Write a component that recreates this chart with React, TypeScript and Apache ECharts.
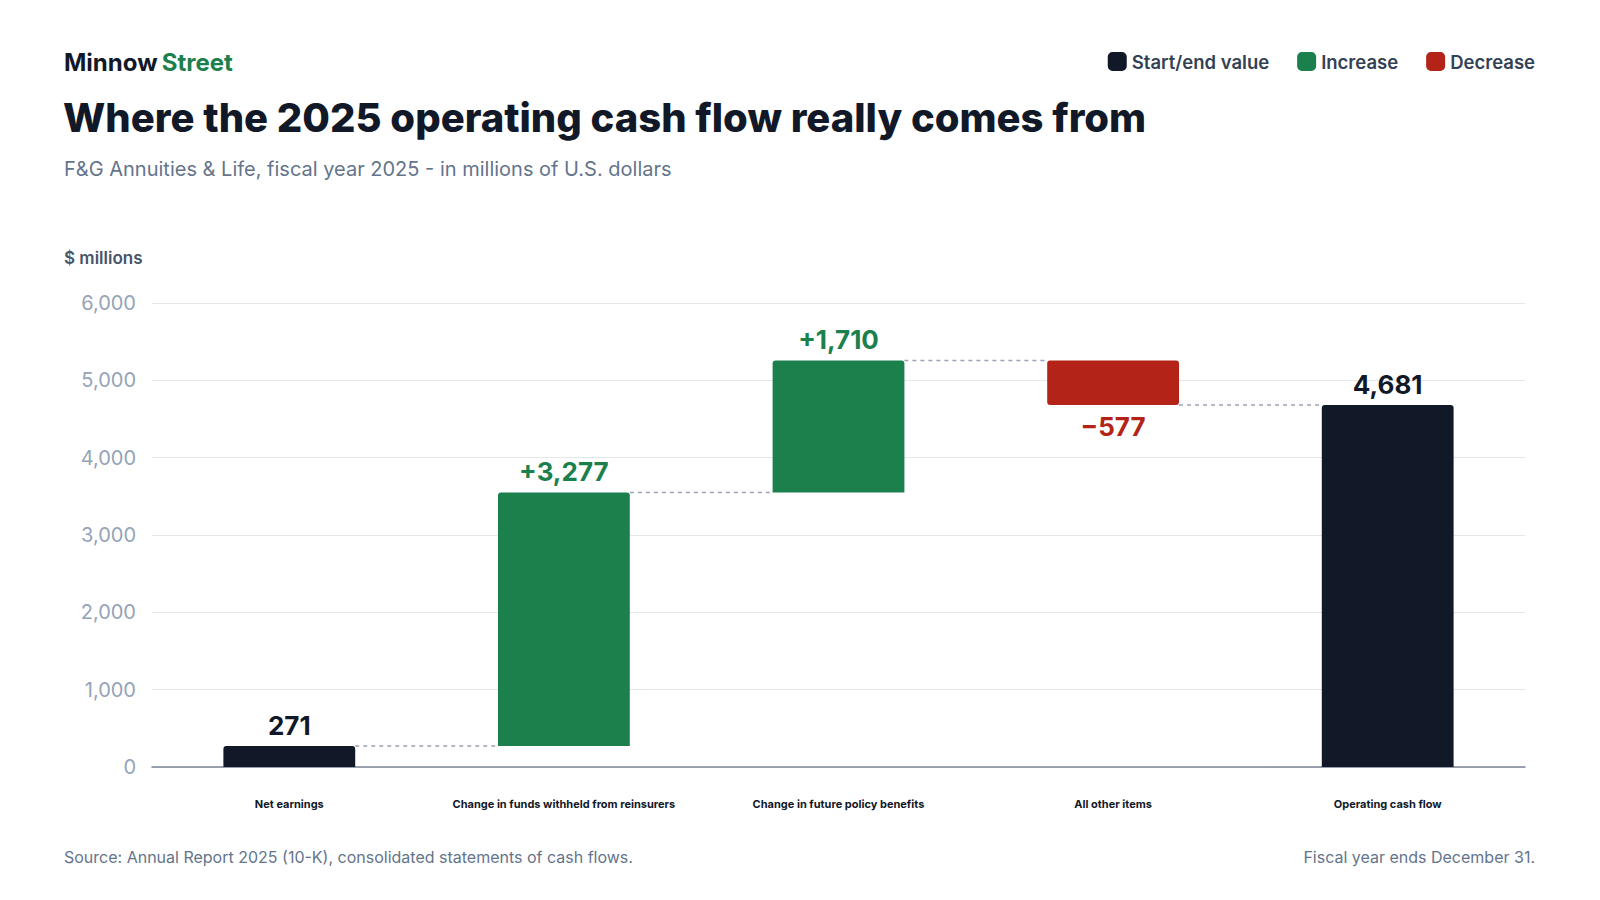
import { useEffect, useRef } from 'react';
import * as echarts from 'echarts';

const categories = [
  'Net earnings',
  'Change in funds withheld from reinsurers',
  'Change in future policy benefits',
  'All other items',
  'Operating cash flow',
];
const steps = [271, 3277, 1710, -577, 4681];
const kinds = ['total', 'delta', 'delta', 'delta', 'total'];
const yTicks = [0, 1000, 2000, 3000, 4000, 5000, 6000];

const NAVY = '#111827';
const GREEN = '#1b804c';
const RED = '#b42318';
const FONT = 'Inter, "Noto Sans", sans-serif';

const fmt = (v: number) => Math.abs(v).toLocaleString('en-US');

export default function App() {
  const ref = useRef<HTMLDivElement>(null);

  useEffect(() => {
    document.body.style.margin = '0';
    if (!ref.current) return;
    const chart = echarts.init(ref.current, undefined, { renderer: 'svg' });

    // running totals -> base / visible parts
    const base: number[] = [];
    const ends: number[] = [];
    let run = 0;
    steps.forEach((s, i) => {
      if (kinds[i] === 'total') {
        base.push(0);
        run = s;
      } else if (s >= 0) {
        base.push(run);
        run += s;
      } else {
        run += s;
        base.push(run);
      }
      ends.push(run);
    });
    const pick = (f: (i: number) => boolean) =>
      steps.map((s, i) => (f(i) ? Math.abs(s) : '-'));

    chart.setOption({
      animation: false,
      textStyle: { fontFamily: FONT },
      title: [
        {
          text: '{a|Minnow} {b|Street}',
          left: 59, top: 45,
          textStyle: { rich: {
            a: { fontSize: 24, fontWeight: 700, color: NAVY, fontFamily: FONT },
            b: { fontSize: 24, fontWeight: 700, color: GREEN, fontFamily: FONT },
          } },
        },
        {
          text: 'Where the 2025 operating cash flow really comes from',
          left: 58, top: 92,
          textStyle: { fontSize: 40, fontWeight: 800, color: NAVY, fontFamily: FONT },
        },
        {
          text: 'F&G Annuities & Life, fiscal year 2025 - in millions of U.S. dollars',
          left: 59, top: 154,
          textStyle: { fontSize: 20, fontWeight: 400, color: '#64748b', fontFamily: FONT },
        },
        {
          text: '$ millions',
          left: 59, top: 244,
          textStyle: { fontSize: 17, fontWeight: 600, color: '#475569', fontFamily: FONT },
        },
        {
          text: 'Source: Annual Report 2025 (10-K), consolidated statements of cash flows.',
          left: 59, top: 844,
          textStyle: { fontSize: 16, fontWeight: 400, color: '#64748b', fontFamily: FONT },
        },
        {
          text: 'Fiscal year ends December 31.',
          right: 60, top: 844,
          textStyle: { fontSize: 16, fontWeight: 400, color: '#64748b', fontFamily: FONT },
        },
      ],
      legend: {
        right: 60, top: 47,
        itemWidth: 19, itemHeight: 19, itemGap: 28,
        icon: 'roundRect',
        data: ['Start/end value', 'Increase', 'Decrease'],
        textStyle: { fontSize: 18.5, fontWeight: 600, color: '#334155', fontFamily: FONT },
      },
      grid: { left: 152, right: 75, top: 303, bottom: 133 },
      xAxis: {
        type: 'category',
        data: categories,
        axisLine: { lineStyle: { color: '#7c8799', width: 1.5 } },
        axisTick: { show: false },
        axisLabel: { fontSize: 11, fontWeight: 700, color: NAVY, margin: 31, interval: 0 },
      },
      yAxis: {
        type: 'value',
        min: 0, max: 6000, interval: 1000,
        axisLabel: { fontSize: 20, color: '#94a3b8', margin: 16,
          formatter: (v: number) => (yTicks.includes(v) ? fmt(v) : '') },
        splitLine: { lineStyle: { color: '#e5e7eb' } },
      },
      series: [
        {
          name: 'base', type: 'bar', stack: 'w', data: base, barWidth: '48%',
          itemStyle: { color: 'transparent' }, silent: true,
        },
        {
          name: 'Start/end value', type: 'bar', stack: 'w', data: pick(i => kinds[i] === 'total'),
          itemStyle: { color: NAVY, borderRadius: [3, 3, 0, 0] },
          label: { show: true, position: 'top', distance: 8, fontSize: 26, fontWeight: 700,
            color: NAVY, formatter: (p: any) => fmt(p.value) },
        },
        {
          name: 'Increase', type: 'bar', stack: 'w', data: pick(i => kinds[i] === 'delta' && steps[i] >= 0),
          itemStyle: { color: GREEN, borderRadius: [3, 3, 0, 0] },
          label: { show: true, position: 'top', distance: 8, fontSize: 26, fontWeight: 700,
            color: GREEN, formatter: (p: any) => '+' + fmt(p.value) },
        },
        {
          name: 'Decrease', type: 'bar', stack: 'w', data: pick(i => kinds[i] === 'delta' && steps[i] < 0),
          itemStyle: { color: RED, borderRadius: [3, 3, 3, 3] },
          label: { show: true, position: 'bottom', distance: 8, fontSize: 26, fontWeight: 700,
            color: RED, formatter: (p: any) => '\u2212' + fmt(p.value) },
        },
        {
          name: 'connectors', type: 'custom', silent: true, z: 1,
          data: ends.slice(0, -1).map((v, i) => [i, v]),
          renderItem: (_params: any, api: any) => {
            const i = api.value(0);
            const v = api.value(1);
            const a = api.coord([i, v]);
            const b = api.coord([i + 1, v]);
            const half = (api.size([1, 0])[0] * 0.48) / 2;
            return {
              type: 'line',
              shape: { x1: a[0] + half, y1: a[1], x2: b[0] - half, y2: b[1] },
              style: { stroke: '#9aa3b5', lineWidth: 1.5, lineDash: [4, 4] },
            };
          },
        },
      ],
    });
    return () => chart.dispose();
  }, []);

  return <div ref={ref} style={{ width: 1600, height: 900, background: '#fff' }} />;
}
